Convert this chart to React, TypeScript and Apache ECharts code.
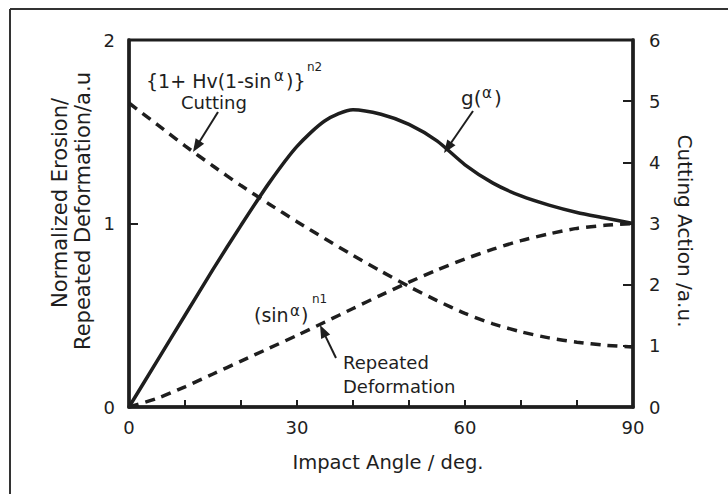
import React, { useEffect, useRef } from "react";
import * as echarts from "echarts";

// Impact angle (deg)
const angles = [0, 5, 10, 15, 20, 25, 30, 35, 40, 45, 50, 55, 60, 65, 70, 75, 80, 85, 90];
// g(alpha): normalized erosion (left axis)
const gValues = [0, 0.25, 0.5, 0.75, 0.99, 1.22, 1.42, 1.56, 1.62, 1.595, 1.54, 1.45, 1.32, 1.22, 1.15, 1.1, 1.06, 1.03, 1.0];
// Cutting action (right axis)
const cuttingValues = [4.97, 4.62, 4.27, 3.94, 3.62, 3.32, 3.03, 2.75, 2.48, 2.22, 1.97, 1.74, 1.53, 1.36, 1.23, 1.13, 1.06, 1.01, 0.98];
// Repeated deformation (right axis)
const repeatedValues = [0, 0.14, 0.33, 0.54, 0.75, 0.96, 1.17, 1.39, 1.61, 1.83, 2.04, 2.24, 2.42, 2.58, 2.72, 2.83, 2.92, 2.97, 3.0];

const xLabelValues = [0, 30, 60, 90];

const FONT = '"DejaVu Sans", "Liberation Sans", sans-serif';
const INK = "#1e1e1e";

function txt(x: number, y: number, text: string, fontSize: number, align = "left", rotation = 0) {
  return {
    type: "text",
    x,
    y,
    rotation,
    silent: true,
    style: {
      text,
      fontSize,
      fontFamily: FONT,
      fill: INK,
      align,
      textAlign: align,
      verticalAlign: "middle",
      textVerticalAlign: "middle",
    },
  };
}

function arrow(sx: number, sy: number, tx: number, ty: number) {
  const dx = tx - sx;
  const dy = ty - sy;
  const len = Math.sqrt(dx * dx + dy * dy);
  const ux = dx / len;
  const uy = dy / len;
  const nx = -uy;
  const ny = ux;
  const hl = 13;
  const hw = 5;
  const bx = tx - ux * hl;
  const by = ty - uy * hl;
  return [
    {
      type: "line",
      silent: true,
      shape: { x1: sx, y1: sy, x2: bx + ux * 2, y2: by + uy * 2 },
      style: { stroke: INK, lineWidth: 2 },
    },
    {
      type: "polygon",
      silent: true,
      shape: {
        points: [
          [tx, ty],
          [bx + nx * hw, by + ny * hw],
          [bx - nx * hw, by - ny * hw],
        ],
      },
      style: { fill: INK },
    },
  ];
}

export default function App() {
  const ref = useRef<HTMLDivElement>(null);

  useEffect(() => {
    document.body.style.margin = "0";
    const chart = echarts.init(ref.current!, null, { renderer: "svg" });
    const pairs = (vals: number[]) => angles.map((a, i) => [a, vals[i]]);
    const axisText = { color: INK, fontFamily: FONT, fontSize: 18 };

    chart.setOption({
      animation: false,
      backgroundColor: "#ffffff",
      grid: {
        left: 129,
        top: 40,
        right: 95,
        bottom: 87,
        show: true,
        borderColor: INK,
        borderWidth: 3,
        backgroundColor: "transparent",
      },
      xAxis: {
        type: "value",
        min: 0,
        max: 90,
        interval: 10,
        axisLine: { show: true, lineStyle: { color: INK, width: 3.5 } },
        axisTick: { show: true, inside: true, length: 7, lineStyle: { color: INK, width: 2 } },
        axisLabel: {
          ...axisText,
          margin: 11,
          formatter: (v: number) => (xLabelValues.indexOf(v) >= 0 ? String(v) : ""),
        },
        splitLine: { show: false },
      },
      yAxis: [
        {
          type: "value",
          position: "left",
          min: 0,
          max: 2,
          interval: 1,
          axisLine: { show: true, lineStyle: { color: INK, width: 3.5 } },
          axisTick: { show: true, inside: true, length: 9, lineStyle: { color: INK, width: 2 } },
          axisLabel: { ...axisText, margin: 14 },
          splitLine: { show: false },
        },
        {
          type: "value",
          position: "right",
          min: 0,
          max: 6,
          interval: 1,
          axisLine: { show: true, lineStyle: { color: INK, width: 3.5 } },
          axisTick: { show: true, inside: true, length: 10, lineStyle: { color: INK, width: 2 } },
          axisLabel: { ...axisText, margin: 16 },
          splitLine: { show: false },
        },
      ],
      series: [
        {
          name: "g(α)",
          type: "line",
          yAxisIndex: 0,
          data: pairs(gValues),
          smooth: 0.25,
          showSymbol: false,
          lineStyle: { color: INK, width: 3.5 },
        },
        {
          name: "Cutting",
          type: "line",
          yAxisIndex: 1,
          data: pairs(cuttingValues),
          smooth: 0.25,
          showSymbol: false,
          lineStyle: { color: INK, width: 3.5, type: [10, 7] },
        },
        {
          name: "Repeated Deformation",
          type: "line",
          yAxisIndex: 1,
          data: pairs(repeatedValues),
          smooth: 0.25,
          showSymbol: false,
          lineStyle: { color: INK, width: 3.5, type: [10, 7] },
        },
      ],
      graphic: [
        { type: "line", silent: true, shape: { x1: 10, y1: 9, x2: 728, y2: 9 }, style: { stroke: "#333", lineWidth: 2 } },
        { type: "line", silent: true, shape: { x1: 10, y1: 9, x2: 10, y2: 494 }, style: { stroke: "#333", lineWidth: 2 } },
        // axis titles
        txt(388, 462, "Impact Angle / deg.", 19.5, "center"),
        txt(60, 203, "Normalized Erosion/", 21, "center", Math.PI / 2),
        txt(83, 211, "Repeated Deformation/a.u", 21, "center", Math.PI / 2),
        txt(685, 231, "Cutting Action /a.u.", 20, "center", -Math.PI / 2),
        // cutting formula
        txt(146, 81, "{1+ Hv(1-sin", 19),
        txt(274, 76, "α", 15),
        txt(286, 81, ")}", 19),
        txt(307, 67, "n2", 12),
        txt(214, 102, "Cutting", 18, "center"),
        ...arrow(218, 112, 193, 152),
        // g(alpha)
        txt(461, 98, "g(", 20),
        txt(482, 93, "α", 15),
        txt(494, 98, ")", 20),
        ...arrow(473, 111, 444, 153),
        // repeated deformation
        txt(254, 315, "(sin", 19),
        txt(290, 311, "α", 15),
        txt(301, 315, ")", 19),
        txt(312, 299, "n1", 12),
        txt(343, 362, "Repeated", 18),
        txt(343, 386, "Deformation", 18),
        ...arrow(336, 358, 320, 325),
      ],
    });

    return () => chart.dispose();
  }, []);

  return <div ref={ref} style={{ width: 728, height: 494 }} />;
}
